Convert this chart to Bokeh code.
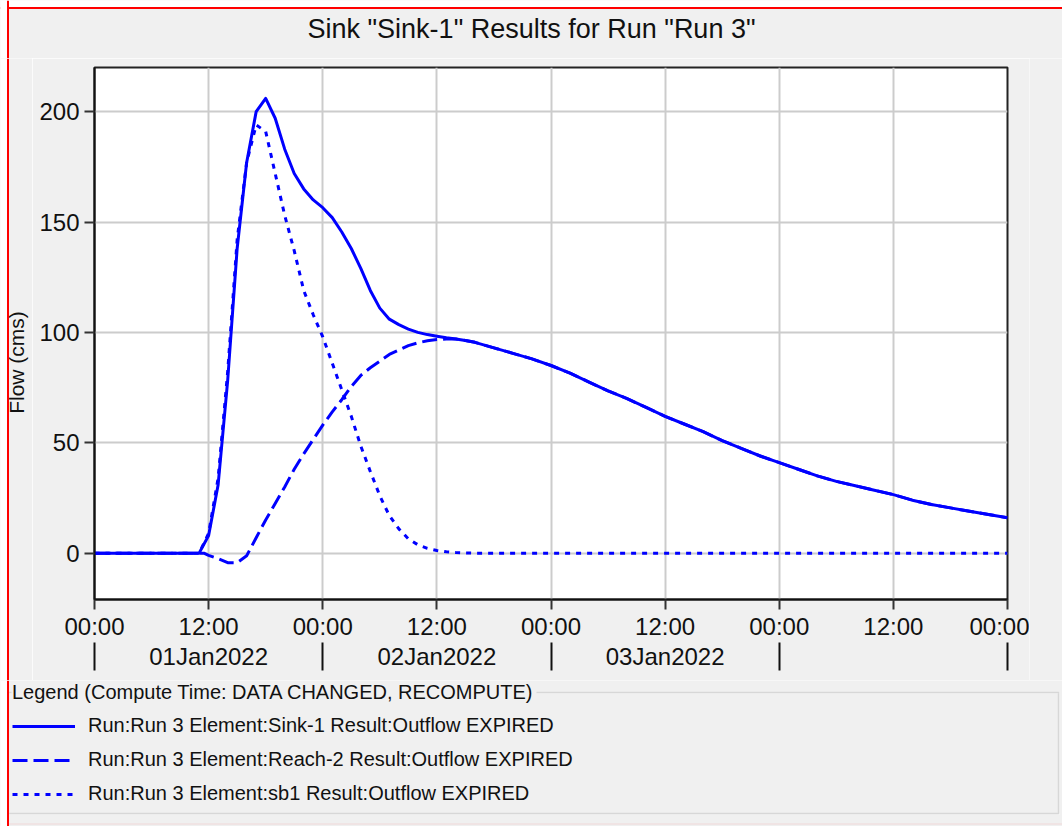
from math import pi

from bokeh.embed import file_html
from bokeh.layouts import column, row
from bokeh.models import (BoxAnnotation, FixedTicker, Grid, Label, Legend,
                          LegendItem, LinearAxis, Range1d, Span)
from bokeh.plotting import figure
from bokeh.resources import INLINE

# ---------------------------------------------------------------------------
# Flow series (cms), hours since 01Jan2022 00:00
# ---------------------------------------------------------------------------
sink_hours = [0, 11, 12, 13, 14, 15, 16, 17, 18, 19, 20, 21, 22, 23, 24, 25, 26,
              27, 28, 29, 30, 31, 32, 33, 34, 35, 36, 37, 38, 39, 40, 42, 44,
              46, 48, 50, 52, 54, 56, 58, 60, 62, 64, 66, 68, 70, 72, 74, 76,
              78, 80, 82, 84, 86, 88, 90, 92, 94, 96]
sink_flow = [0, 0, 8, 31, 78, 138, 177, 200, 206, 197, 183, 172, 165, 160,
             156.5, 152, 145.5, 138, 129, 119, 111, 106, 103.5, 101.5, 100,
             99, 98.3, 97.6, 97, 96.3, 95.5, 93, 90.5, 88, 85, 81.5, 77.5,
             73.5, 70, 66, 62, 58.5, 55, 51, 47.5, 44, 41, 38, 35, 32.5, 30.5,
             28.5, 26.5, 24, 22, 20.5, 19, 17.5, 16]

reach_hours = [0, 11, 11.5, 12, 13, 14, 15, 16, 17, 18, 19, 20, 21, 22, 23, 24,
               25, 26, 27, 28, 29, 30, 31, 32, 33, 34, 35, 36, 37, 38, 39, 40,
               42, 44, 46, 48, 50, 52, 54, 56, 58, 60, 62, 64, 66, 68, 70, 72,
               74, 76, 78, 80, 82, 84, 86, 88, 90, 92, 94, 96]
reach_flow = [0, 0, 0, -1, -2.5, -4.3, -4.3, -1.2, 7, 15, 22.5, 30, 38, 45,
              51.5, 58, 64, 69.5, 75.5, 80.5, 84, 87, 90, 92, 94, 95.3, 96.2,
              96.8, 97, 97, 96.3, 95.5, 93, 90.5, 88, 85, 81.5, 77.5, 73.5,
              70, 66, 62, 58.5, 55, 51, 47.5, 44, 41, 38, 35, 32.5, 30.5, 28.5,
              26.5, 24, 22, 20.5, 19, 17.5, 16]

sb1_hours = [0, 11, 12, 13, 14, 15, 16, 17, 18, 19, 20, 21, 22, 23, 24, 25, 26,
             27, 28, 29, 30, 31, 32, 33, 34, 35, 36, 37, 38, 39, 40, 96]
sb1_flow = [0, 0, 9, 34, 82, 142, 177, 194, 191, 172, 153, 137, 119, 108, 98,
            86, 74, 62, 48.5, 37, 26, 17, 11, 6.5, 3.8, 2.2, 1.2, 0.6, 0.3,
            0.1, 0, 0]

series_labels = [
    "Run:Run 3 Element:Sink-1 Result:Outflow EXPIRED",
    "Run:Run 3 Element:Reach-2 Result:Outflow EXPIRED",
    "Run:Run 3 Element:sb1 Result:Outflow EXPIRED",
]
series_dash = ["solid", "15 6", "5 6"]

# Axis ticks and their labels
time_ticks = [0, 12, 24, 36, 48, 60, 72, 84, 96]
time_tick_labels = ["00:00", "12:00", "00:00", "12:00", "00:00", "12:00",
                    "00:00", "12:00", "00:00"]
day_bounds = [0, 24, 48, 72, 96]
day_centers = [12, 36, 60]
day_labels = ["01Jan2022", "02Jan2022", "03Jan2022"]
flow_ticks = [0, 50, 100, 150, 200]

title_text = 'Sink "Sink-1" Results for Run "Run 3"'
y_title = "Flow (cms)"
legend_title = "Legend (Compute Time: DATA CHANGED, RECOMPUTE)"

FONT = "Liberation Sans"
BLUE = "#0000ff"
PANEL = "#f0f0f0"
TXT = "#111111"
EDGE = "#ff0000"

# Page geometry (pixels): header band, side bands, chart, legend box
W, H = 1062, 826
HEAD_H = 58          # band holding the title
SIDE_W = 32          # band holding the y-axis title
CHART_R = 1029       # right edge of the chart canvas
LEG_TOP = 680        # top of the legend panel
F_LEFT, F_RIGHT, F_TOP, F_BOTTOM = 94, 1007, 67, 599   # chart frame
EDGE_X = 7.5         # window edge line


def panel_fig(x0, y0, w, h):
    """A plain figure whose data units are page pixels (y grows downward)."""
    f = figure(width=w, height=h, output_backend="svg", toolbar_location=None,
               x_range=Range1d(x0, x0 + w), y_range=Range1d(y0 + h, y0),
               x_axis_type=None, y_axis_type=None, min_border=0,
               background_fill_color=PANEL, border_fill_color=PANEL)
    f.outline_line_color = None
    f.grid.visible = False
    f.frame_align = False
    return f


def window_edge(f, top_edge=False):
    """White margin plus the red window edge along the left (and top)."""
    if top_edge:
        f.add_layout(BoxAnnotation(top=-10, bottom=EDGE_X - 1,
                                   fill_color="white", fill_alpha=1,
                                   line_color=None))
        f.add_layout(Span(location=EDGE_X, dimension="width",
                          line_color=EDGE, line_width=2))
    f.add_layout(BoxAnnotation(left=-10, right=EDGE_X - 1, fill_color="white",
                               fill_alpha=1, line_color=None))
    f.add_layout(Span(location=EDGE_X, dimension="height",
                      line_color=EDGE, line_width=2))


# --- header with the chart title --------------------------------------------
head = panel_fig(0, 0, W, HEAD_H)
head.add_layout(Label(x=531, y=28, text=title_text, text_align="center",
                      text_baseline="middle", text_font=FONT,
                      text_font_size="27px", text_color=TXT))
window_edge(head, top_edge=True)

# --- left band with the y-axis title ----------------------------------------
side = panel_fig(0, HEAD_H, SIDE_W, LEG_TOP - HEAD_H)
side.add_layout(Label(x=16, y=362, text=y_title, angle=pi / 2,
                      text_align="center", text_baseline="middle",
                      text_font=FONT, text_font_size="21px", text_color=TXT))
window_edge(side)

# --- right band (the chart canvas ends before the window does) --------------
right_band = panel_fig(CHART_R, HEAD_H, W - CHART_R, LEG_TOP - HEAD_H)

# --- chart --------------------------------------------------------------------
p = figure(width=CHART_R - SIDE_W, height=LEG_TOP - HEAD_H,
           output_backend="svg", toolbar_location=None,
           x_range=Range1d(0, 96), y_range=Range1d(-21, 220),
           min_border_left=F_LEFT - SIDE_W, min_border_right=CHART_R - F_RIGHT,
           min_border_top=F_TOP - HEAD_H, min_border_bottom=LEG_TOP - F_BOTTOM,
           background_fill_color="white", border_fill_color=PANEL,
           x_axis_type=None, y_axis_type=None)
p.frame_align = False
p.outline_line_color = "#222222"
p.outline_line_width = 2


def style_axis(ax, size="24px"):
    ax.major_tick_in = 0
    ax.major_tick_out = 10
    ax.minor_tick_line_color = None
    ax.axis_line_width = 2
    ax.axis_line_color = "#111111"
    ax.major_tick_line_width = 2
    ax.major_tick_line_color = "#333333"
    ax.major_label_text_font = FONT
    ax.major_label_text_font_size = size
    ax.major_label_text_color = TXT


yaxis = LinearAxis(ticker=FixedTicker(ticks=flow_ticks))
style_axis(yaxis)
yaxis.major_label_standoff = 5
p.add_layout(yaxis, "left")

xaxis = LinearAxis(ticker=FixedTicker(ticks=time_ticks))
style_axis(xaxis)
xaxis.major_label_overrides = dict(zip(time_ticks, time_tick_labels))
xaxis.major_label_standoff = 3
p.add_layout(xaxis, "below")

# date row: separators at midnight, date names at noon
daxis = LinearAxis(ticker=FixedTicker(ticks=day_centers, minor_ticks=day_bounds))
style_axis(daxis)
daxis.major_label_overrides = dict(zip(day_centers, day_labels))
daxis.axis_line_color = None
daxis.major_tick_line_color = None
daxis.major_tick_out = 0
daxis.minor_tick_in = 0
daxis.minor_tick_out = 28
daxis.minor_tick_line_width = 2
daxis.minor_tick_line_color = "#111111"
daxis.major_label_standoff = -28
p.add_layout(daxis, "below")

p.add_layout(Grid(dimension=0, ticker=xaxis.ticker, grid_line_color="#cccccc",
                  grid_line_width=2))
p.add_layout(Grid(dimension=1, ticker=yaxis.ticker, grid_line_color="#cccccc",
                  grid_line_width=2))

series = [(sink_hours, sink_flow), (reach_hours, reach_flow),
          (sb1_hours, sb1_flow)]
for (hrs, flow), dash in zip(series, series_dash):
    p.line(hrs, flow, line_color=BLUE, line_width=3, line_dash=dash,
           line_join="round")

# --- legend panel -------------------------------------------------------------
leg = panel_fig(0, LEG_TOP, W, H - LEG_TOP)
# etched group box
leg.add_layout(BoxAnnotation(left=9, right=1059, top=693, bottom=814,
                             fill_alpha=0, line_color="white", line_width=1))
leg.add_layout(BoxAnnotation(left=8, right=1058, top=692, bottom=813,
                             fill_alpha=0, line_color="#a0a0a0", line_width=1.5))
leg.add_layout(BoxAnnotation(left=11, right=536, top=681, bottom=703,
                             fill_color=PANEL, fill_alpha=1, line_color=None))
leg.add_layout(Span(location=823.5, dimension="width", line_color="#f0d8d8",
                    line_width=1))

# legend keys: the same series, styled alike (they fall outside this panel's
# pixel ranges, so only their legend swatches show)
keys = [leg.line(hrs, flow, line_color=BLUE, line_width=3, line_dash=dash)
        for (hrs, flow), dash in zip(series, series_dash)]
legend = Legend(items=[LegendItem(label=t, renderers=[r])
                       for t, r in zip(series_labels, keys)],
                location=(12, 21), title=legend_title,
                title_text_font=FONT, title_text_font_size="20px",
                title_text_font_style="normal", title_text_color=TXT,
                title_standoff=10, label_text_font=FONT,
                label_text_font_size="20px", label_text_color=TXT,
                glyph_width=63, glyph_height=20, label_height=20,
                label_standoff=13, spacing=11, padding=0, margin=0,
                border_line_color=None, background_fill_alpha=0)
leg.add_layout(legend)
window_edge(leg)

page = column(head, row(side, p, right_band), leg)
open("out.html", "w").write(file_html(page, INLINE))
